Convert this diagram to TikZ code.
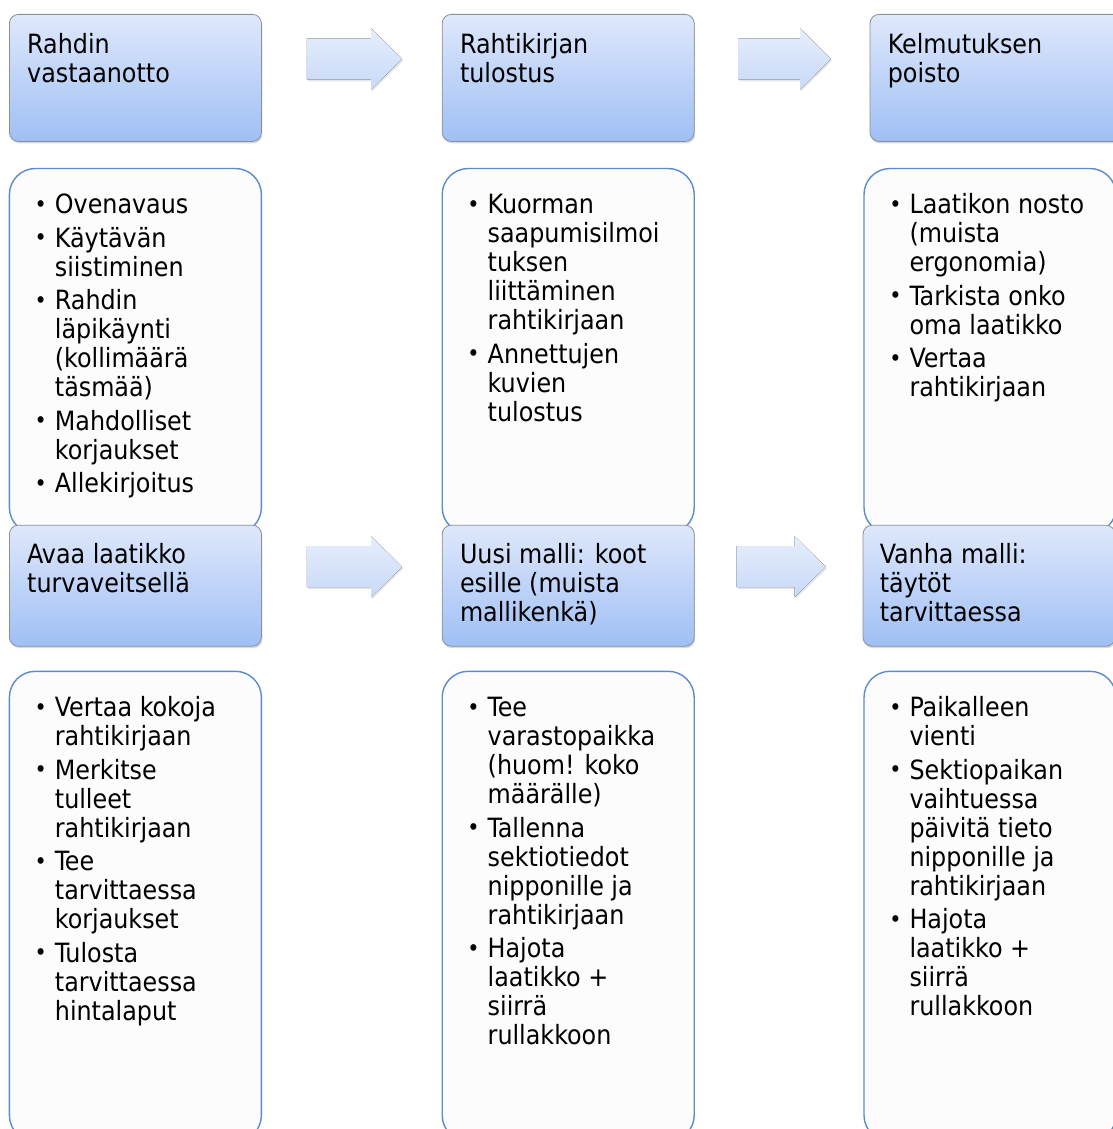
\documentclass[tikz,border=0pt]{standalone}
\usepackage{fontspec}
\setmainfont{DejaVu Sans Condensed}
\usetikzlibrary{calc, positioning, shadows}

\definecolor{hdrtop}{HTML}{DFE8FB}
\definecolor{hdrbot}{HTML}{9FBFF5}
\definecolor{hdrline}{HTML}{8A8F99}
\definecolor{listline}{HTML}{5B8BCB}
\definecolor{arrtop}{HTML}{E6EEFC}
\definecolor{arrbot}{HTML}{C8D9F8}

\newcommand{\steplines}[1]{\begin{tabular}[t]{@{}l@{}}#1\end{tabular}}
\newcommand{\itm}{\llap{\raisebox{1.5pt}{\fontsize{23}{23}\selectfont\textbullet}\hspace{8pt}}}
\newcommand{\flowarrow}[2]{%
  \path ($(#1.east)!0.25!(#2.west)+(0,19)$) coordinate (#1-s)
        ($(#1.east)!0.78!(#2.west)+(0,19)$) coordinate (#1-e);
  \fill[arrowfill] (#1-s) ++(0,20.5) -- ($(#1-e)+(-31,20.5)$) -- ++(0,10) -- (#1-e)
    -- ($(#1-e)+(-31,-30.5)$) -- ++(0,10) -- ($(#1-s)+(0,-20.5)$) -- cycle;
}

\begin{document}
\begin{tikzpicture}[
    x=1pt, y=1pt,
    node distance=26pt,
    header/.style={draw=hdrline, line width=0.8pt, rounded corners=9pt,
      top color=hdrtop, bottom color=hdrbot, minimum width=252pt, inner sep=0pt,
      drop shadow={opacity=0.3, shadow xshift=1pt, shadow yshift=-2pt}},
    listbox/.style={draw=listline, line width=1.4pt, rounded corners=26pt,
      fill=white!99!black, minimum width=252pt, inner sep=0pt},
    steptext/.style={anchor=base west, inner sep=0pt, font=\fontsize{26.5}{29}\selectfont},
    arrowfill/.style={top color=arrtop, bottom color=arrbot,
      drop shadow={opacity=0.2, shadow xshift=1pt, shadow yshift=-2pt}}
  ]
  \useasboundingbox (0,0) rectangle (1112,-1129);

  \node[header, minimum height=127pt, anchor=north west] (h1) at (9,-14) {};
  \node[header, minimum height=127pt, right=180pt of h1] (h2) {};
  \node[header, minimum height=127pt, right=175pt of h2] (h3) {};
  \node[steptext] (t1) at ($(h1.north west)+(18,-40)$) {\steplines{Rahdin\\vastaanotto}};
  \node[steptext] (t2) at ($(h2.north west)+(18,-40)$) {\steplines{Rahtikirjan\\tulostus}};
  \node[steptext] (t3) at ($(h3.north west)+(18,-40)$) {\steplines{Kelmutuksen\\poisto}};
  \flowarrow{h1}{h2}
  \flowarrow{h2}{h3}

  \node[listbox, minimum height=365pt, below=of h1] (l1) {};
  \node[listbox, minimum height=365pt, below=of h2] (l2) {};
  \node[listbox, minimum height=365pt, below=of h3, xshift=-6pt] (l3) {};
  \node[steptext] (u1) at ($(l1.north west)+(46,-46)$) {\steplines{%
    \itm Ovenavaus\\[4.5pt]
    \itm Käytävän\\siistiminen\\[4.5pt]
    \itm Rahdin\\läpikäynti\\(kollimäärä\\täsmää)\\[4.5pt]
    \itm Mahdolliset\\korjaukset\\[4.5pt]
    \itm Allekirjoitus}};
  \node[steptext] (u2) at ($(l2.north west)+(46,-46)$) {\steplines{%
    \itm Kuorman\\saapumisilmoi\\tuksen\\liittäminen\\rahtikirjaan\\[4.5pt]
    \itm Annettujen\\kuvien\\tulostus}};
  \node[steptext] (u3) at ($(l3.north west)+(46,-46)$) {\steplines{%
    \itm Laatikon nosto\\(muista\\ergonomia)\\[4.5pt]
    \itm Tarkista onko\\oma laatikko\\[4.5pt]
    \itm Vertaa\\rahtikirjaan}};

  \node[header, minimum height=121pt, below=383pt of h1] (h4) {};
  \node[header, minimum height=121pt, below=383pt of h2] (h5) {};
  \node[header, minimum height=121pt, below=383pt of h3, xshift=-7pt] (h6) {};
  \node[steptext] (t4) at ($(h4.north west)+(18,-39)$) {\steplines{Avaa laatikko\\turvaveitsellä}};
  \node[steptext] (t5) at ($(h5.north west)+(18,-39)$) {\steplines{Uusi malli: koot\\esille (muista\\mallikenkä)}};
  \node[steptext] (t6) at ($(h6.north west)+(17,-39)$) {\steplines{Vanha malli:\\täytöt\\tarvittaessa}};
  \flowarrow{h4}{h5}
  \flowarrow{h5}{h6}

  \node[listbox, minimum height=470pt, below=24pt of h4] (l4) {};
  \node[listbox, minimum height=470pt, below=24pt of h5] (l5) {};
  \node[listbox, minimum height=470pt, below=24pt of h6, xshift=1pt] (l6) {};
  \node[steptext] (u4) at ($(l4.north west)+(46,-46)$) {\steplines{%
    \itm Vertaa kokoja\\rahtikirjaan\\[4.5pt]
    \itm Merkitse\\tulleet\\rahtikirjaan\\[4.5pt]
    \itm Tee\\tarvittaessa\\korjaukset\\[4.5pt]
    \itm Tulosta\\tarvittaessa\\hintalaput}};
  \node[steptext] (u5) at ($(l5.north west)+(46,-46)$) {\steplines{%
    \itm Tee\\varastopaikka\\(huom! koko\\määrälle)\\[4.5pt]
    \itm Tallenna\\sektiotiedot\\nipponille ja\\rahtikirjaan\\[4.5pt]
    \itm Hajota\\laatikko +\\siirrä\\rullakkoon}};
  \node[steptext] (u6) at ($(l6.north west)+(46,-46)$) {\steplines{%
    \itm Paikalleen\\vienti\\[4.5pt]
    \itm Sektiopaikan\\vaihtuessa\\päivitä tieto\\nipponille ja\\rahtikirjaan\\[4.5pt]
    \itm Hajota\\laatikko +\\siirrä\\rullakkoon}};
\end{tikzpicture}
\end{document}
